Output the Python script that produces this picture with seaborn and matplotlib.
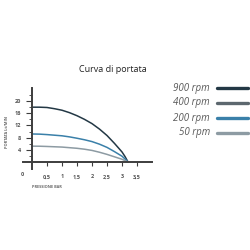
import matplotlib
matplotlib.use("Agg")
import matplotlib.pyplot as plt
import seaborn as sns
import pandas as pd
from matplotlib.ticker import FixedLocator

sns.set_style("white")
plt.rcParams['font.family'] = ['Open Sans', 'DejaVu Sans']

# Data
pressure = [0, 0.25, 0.5, 0.75, 1, 1.25, 1.5, 1.75, 2, 2.25, 2.5, 2.75, 3.0, 3.1, 3.2]
flow_900 = [18, 18, 17.9, 17.5, 17.0, 16.2, 15.2, 14.0, 12.6, 10.8, 8.7, 6.1, 3.3, 1.8, 0]
flow_200 = [9.2, 9.15, 9.0, 8.8, 8.6, 8.25, 7.8, 7.3, 6.7, 5.85, 4.8, 3.4, 1.9, 1.0, 0]
flow_50 = [5.2, 5.18, 5.1, 5.0, 4.9, 4.7, 4.5, 4.2, 3.8, 3.2, 2.5, 1.7, 0.9, 0.45, 0]

legend_labels = ["900 rpm", "400 rpm", "200 rpm", "50 rpm"]
legend_colors = ["#233845", "#5c676e", "#3a80a9", "#8d9ba3"]
x_ticks = [0.5, 1, 1.5, 2, 2.5, 3, 3.5]
x_ticklabels = ["0,5", "1", "1,5", "2", "2,5", "3", "3,5"]
y_ticks = [4, 8, 12, 16, 20]
y_minor = [2, 6, 10, 14, 18, 22]

df = pd.concat([
    pd.DataFrame({"pressione": pressure, "portata": flow_900, "serie": "900 rpm"}),
    pd.DataFrame({"pressione": pressure, "portata": flow_200, "serie": "200 rpm"}),
    pd.DataFrame({"pressione": pressure, "portata": flow_50, "serie": "50 rpm"}),
])
palette = dict(zip(legend_labels, legend_colors))

fig = plt.figure(figsize=(2.5, 2.5), dpi=100)
ax = fig.add_axes([0.092, 0.324, 0.516, 0.324])

sns.lineplot(data=df, x="pressione", y="portata", hue="serie", palette=palette,
             ax=ax, legend=False, linewidth=1.1, estimator=None, sort=False)

ax.set_xlim(-0.3, 4.0)
ax.set_ylim(-2.3, 24.3)
for s in ["top", "right"]:
    ax.spines[s].set_visible(False)
for s in ["left", "bottom"]:
    ax.spines[s].set_position(("data", 0))
    ax.spines[s].set_color("#3d3d3d")
    ax.spines[s].set_linewidth(1.4)

ax.xaxis.set_major_locator(FixedLocator(x_ticks))
ax.set_xticklabels(x_ticklabels)
ax.yaxis.set_major_locator(FixedLocator(y_ticks))
ax.yaxis.set_minor_locator(FixedLocator(y_minor))
ax.tick_params(axis="x", direction="out", length=3, width=0.8, color="#3d3d3d",
               labelsize=4, labelcolor="#555555", pad=6, bottom=True)
ax.tick_params(axis="y", which="major", direction="out", length=4, width=0.8,
               color="#3d3d3d", labelsize=4, labelcolor="#555555", pad=4, left=True)
ax.tick_params(axis="y", which="minor", direction="out", length=2, width=0.6,
               color="#3d3d3d", left=True)
for t in ax.get_xticklabels() + ax.get_yticklabels():
    t.set_fontweight("bold")
ax.set_xlabel("")
ax.set_ylabel("")
ax.grid(False)

fig.text(22 / 250, 1 - 174 / 250, "0", fontsize=4, color="#555555", fontweight="bold",
         ha="center", va="center")
fig.text(32 / 250, 1 - 187 / 250, "PRESSIONE BAR", fontsize=2.8, color="#666666",
         ha="left", va="center", fontweight="bold")
fig.text(7 / 250, 1 - 132 / 250, "PORTATA Lt/MIN", fontsize=2.8, color="#666666",
         rotation=90, ha="center", va="center", fontweight="bold")

fig.text(113 / 250, 1 - 70 / 250, "Curva di portata", fontsize=6.5, color="#222222",
         ha="center", va="center")

rows_y = [88, 103, 118, 133]
for lab, col, yy in zip(legend_labels, legend_colors, rows_y):
    fig.text(210 / 250, 1 - yy / 250, lab, fontsize=7, style="italic", color="#5a5a5a",
             ha="right", va="center")
    fig.add_artist(plt.Line2D([217 / 250, 248 / 250], [1 - yy / 250, 1 - yy / 250],
                              color=col, linewidth=2.4, transform=fig.transFigure))

fig.savefig("out.png", dpi=100)
